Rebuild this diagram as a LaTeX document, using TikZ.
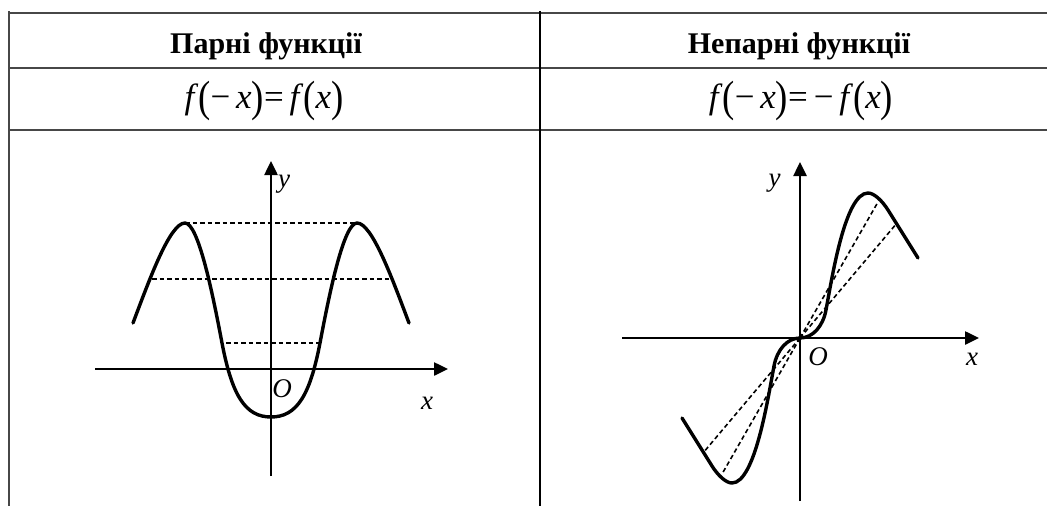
\documentclass[tikz,border=0pt]{standalone}
\usepackage{fontspec}
\setmainfont{Liberation Serif}
\usepackage{graphicx}
\usetikzlibrary{arrows.meta}
\newcommand\tallpar[1]{\raisebox{-0.09em}{\scalebox{1.05}[1.25]{#1}}}
\tikzset{
  gridline/.style={draw=black!72, line width=2.2pt},
  midline/.style={draw=black, line width=1.8pt},
  header/.style={inner sep=0pt, anchor=base, font=\fontsize{30}{36}\selectfont\bfseries},
  formula/.style={inner sep=0pt, anchor=base, font=\fontsize{35}{42}\selectfont},
  axis/.style={draw=black, line width=2.5pt, -{Triangle[length=14pt,width=13pt]}},
  curve/.style={draw=black, line width=3.4pt, line cap=round, line join=round},
  helper/.style={draw=black, line width=1.6pt, dash pattern=on 4.5pt off 3pt},
  lbl/.style={inner sep=0pt, font=\fontsize{27}{32}\selectfont\itshape},
}
\begin{document}
\begin{tikzpicture}[x=1pt,y=-1pt]
\useasboundingbox (0,0) rectangle (1047,506);
% table frame
\coordinate (tl) at (9,11);
\coordinate (bl) at (9,506);
\coordinate (tm) at (540,11);
\coordinate (bm) at (540,506);
\coordinate (r1a) at (9,13);   \coordinate (r1b) at (1047,13);
\coordinate (r2a) at (9,68);   \coordinate (r2b) at (1047,68);
\coordinate (r3a) at (9,130);  \coordinate (r3b) at (1047,130);
\draw[gridline] (r1a) -- (r1b);
\draw[gridline] (r2a) -- (r2b);
\draw[gridline] (r3a) -- (r3b);
\draw[gridline] (tl) -- (bl);
\draw[midline] (tm) -- (bm);
% headers
\node[header] (h1) at (266,53.5) {Парні функції};
\node[header] (h2) at (799,53.5) {Непарні функції};
\node[formula] (f1) at (264,108) {\textit{f}\tallpar{(}−\,\textit{x}\tallpar{)}=\,\textit{f}\tallpar{(}\textit{x}\tallpar{)}};
\node[formula] (f2) at (801,108) {\textit{f}\tallpar{(}−\,\textit{x}\tallpar{)}=\,−\,\textit{f}\tallpar{(}\textit{x}\tallpar{)}};
% ---------- even function ----------
\coordinate (ax1) at (95,369);
\coordinate (ax1e) at (448,369);
\coordinate (ay1) at (271,476);
\coordinate (ay1e) at (271,161);
\draw[axis] (ax1) -- (ax1e);
\draw[axis] (ay1) -- (ay1e);
\coordinate (pL) at (185,223);
\coordinate (pR) at (357,223);
\coordinate (mL) at (152,279);
\coordinate (mR) at (390,279);
\coordinate (lL) at (226,343);
\coordinate (lR) at (319,343);
\draw[helper] (pL) -- (pR);
\draw[helper] (mL) -- (mR);
\draw[helper] (lL) -- (lR);
\draw[curve] (133,323) .. controls (150,278) and (170,223) .. (185,223)
  .. controls (198,223) and (212,290) .. (222,343)
  .. controls (232,395) and (245,417) .. (271,417)
  .. controls (297,417) and (310,395) .. (320,343)
  .. controls (330,290) and (344,223) .. (357,223)
  .. controls (372,223) and (392,278) .. (409,323);
\node[lbl] (ly1) at (284,184) {y};
\node[lbl] (lo1) at (282,389) {O};
\node[lbl] (lx1) at (427,403) {x};
% ---------- odd function ----------
\coordinate (ax2) at (622,338);
\coordinate (ax2e) at (979,338);
\coordinate (ay2) at (800,501);
\coordinate (ay2e) at (800,162);
\draw[axis] (ax2) -- (ax2e);
\draw[axis] (ay2) -- (ay2e);
\coordinate (O2) at (800,338);
\coordinate (d1) at (878,202);
\coordinate (d2) at (897,223);
\coordinate (d3) at (722,474);
\coordinate (d4) at (703,453);
\draw[helper] (O2) -- (d1);
\draw[helper] (O2) -- (d2);
\draw[helper] (O2) -- (d3);
\draw[helper] (O2) -- (d4);
\draw[curve] (682,418) -- (712,466)
  .. controls (718,475.5) and (726,483) .. (732,483)
  .. controls (755,483) and (768,398) .. (774,366)
  .. controls (777,350) and (787,338) .. (800,338)
  .. controls (813,338) and (823,326) .. (826,310)
  .. controls (832,278) and (845,193) .. (868,193)
  .. controls (874,193) and (882,200.5) .. (888,210)
  -- (918,258);
\node[lbl] (ly2) at (774.5,183) {y};
\node[lbl] (lo2) at (818,357) {O};
\node[lbl] (lx2) at (972,359) {x};
\end{tikzpicture}
\end{document}
